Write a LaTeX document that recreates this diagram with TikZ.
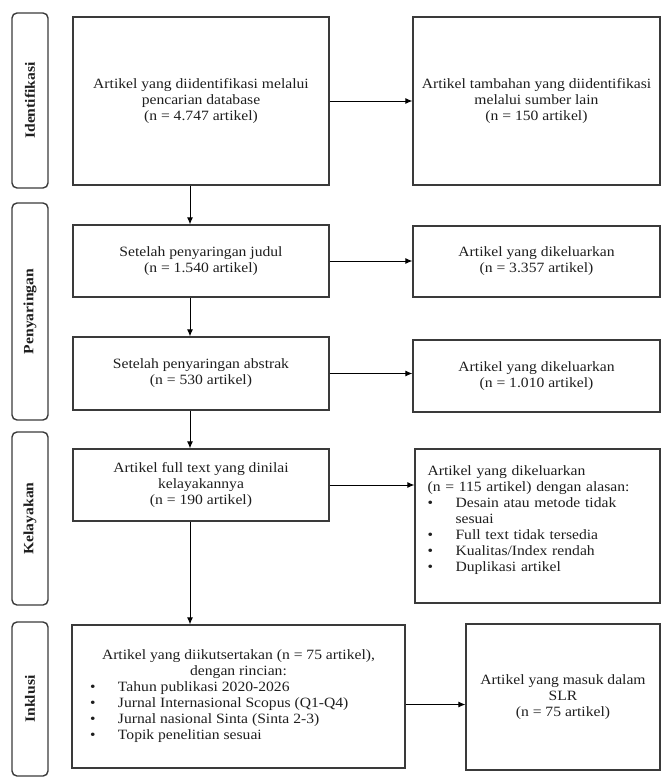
\documentclass[tikz,border=0pt]{standalone}
\usepackage{fontspec}
\setmainfont{Liberation Serif}[FakeStretch=1.1]
\usetikzlibrary{arrows.meta, positioning}
\definecolor{FrameGray}{HTML}{3A3A3A}
\definecolor{InkBlack}{HTML}{1E1E1E}
\newcommand{\flowfont}{\fontsize{14.2}{16}\selectfont}
\newcommand{\bul}[1]{\makebox[28pt][l]{\textbullet}#1}
\newcommand{\bulwide}[1]{\makebox[297pt][l]{\makebox[28pt][l]{\textbullet}#1}}
\tikzset{
    % Phase label boxes (rotated)
    phasebox/.style={
        rectangle,
        rounded corners=5pt,
        draw=FrameGray,
        line width=1.4pt,
        rotate=90,
        minimum height=36pt,
        text=InkBlack,
        font=\flowfont\bfseries
    },
    % Flow boxes
    flowbox/.style={
        rectangle,
        draw=FrameGray,
        line width=1.3pt,
        align=center,
        text=InkBlack,
        font=\flowfont
    },
    % Left aligned list text
    listtext/.style={
        inner sep=0pt,
        align=left,
        text width=219pt,
        text=InkBlack,
        font=\flowfont
    },
    % Arrow style
    myarrow/.style={
        -{Latex[length=7pt,width=6pt]},
        line width=0.9pt,
        black
    }
}
\begin{document}
\begin{tikzpicture}[x=1pt, y=-1pt]
    \useasboundingbox (0,0) rectangle (662,777);

    % Phase labels
    \node[phasebox, minimum width=175pt] (identifikasi) at (30,100.5) {Identifikasi};
    \node[phasebox, minimum width=217pt] (penyaringan) at (30,311.5) {Penyaringan};
    \node[phasebox, minimum width=173pt] (kelayakan) at (30,518.5) {Kelayakan};
    \node[phasebox, minimum width=154pt] (inklusi) at (30,699) {Inklusi};

    % Main column
    \node[flowbox, minimum width=256pt, minimum height=168pt] (found) at (201,101)
        {Artikel yang diidentifikasi melalui\\pencarian database\\(n = 4.747 artikel)};
    \node[flowbox, minimum width=256pt, minimum height=72pt] (judul) at (201,261)
        {Setelah penyaringan judul\\(n = 1.540 artikel)};
    \node[flowbox, minimum width=256pt, minimum height=73pt] (abstrak) at (201,373.5)
        {Setelah penyaringan abstrak\\(n = 530 artikel)};
    \node[flowbox, minimum width=256pt, minimum height=72pt] (fulltext) at (201,485)
        {Artikel full text yang dinilai\\kelayakannya\\(n = 190 artikel)};
    \node[flowbox, minimum width=333pt, minimum height=143pt] (included) at (238.5,696.5)
        {Artikel yang diikutsertakan (n = 75 artikel),\\dengan rincian:\\
         \bulwide{Tahun publikasi 2020-2026}\\
         \bulwide{Jurnal Internasional Scopus (Q1-Q4)}\\
         \bulwide{Jurnal nasional Sinta (Sinta 2-3)}\\
         \bulwide{Topik penelitian sesuai}};

    % Side column
    \node[flowbox, minimum width=247pt, minimum height=168pt] (extra) at (536.5,101)
        {Artikel tambahan yang diidentifikasi\\melalui sumber lain\\(n = 150 artikel)};
    \node[flowbox, minimum width=247pt, minimum height=71pt] (out1) at (536.5,261.5)
        {Artikel yang dikeluarkan\\(n = 3.357 artikel)};
    \node[flowbox, minimum width=247pt, minimum height=72pt] (out2) at (536.5,376)
        {Artikel yang dikeluarkan\\(n = 1.010 artikel)};
    \node[flowbox, minimum width=245pt, minimum height=154pt] (out3) at (537.5,526) {};
    \node[listtext, anchor=north west] (reasons) at ([xshift=13pt,yshift=-17pt]out3.north west)
        {Artikel yang dikeluarkan\\(n = 115 artikel) dengan alasan:\\
         \bul{Desain atau metode tidak}\\\hspace*{28pt}sesuai\\
         \bul{Full text tidak tersedia}\\
         \bul{Kualitas/Index rendah}\\
         \bul{Duplikasi artikel}};
    \node[flowbox, minimum width=194pt, minimum height=146pt] (slr) at (563,697)
        {Artikel yang masuk dalam\\SLR\\(n = 75 artikel)};

    % Arrows
    \coordinate (spine) at (190,0);
    \draw[myarrow] (found.south -| spine) -- (judul.north -| spine);
    \draw[myarrow] (judul.south -| spine) -- (abstrak.north -| spine);
    \draw[myarrow] (abstrak.south -| spine) -- (fulltext.north -| spine);
    \draw[myarrow] (fulltext.south -| spine) -- (included.north -| spine);
    \draw[myarrow] (found.east) -- (extra.west);
    \draw[myarrow] (judul.east) -- (judul.east -| out1.west);
    \draw[myarrow] (abstrak.east) -- (abstrak.east -| out2.west);
    \draw[myarrow] (fulltext.east) -- (fulltext.east -| out3.west);
    \draw[myarrow] ([yshift=-8pt]included.east) -- ([yshift=-8pt]included.east -| slr.west);
\end{tikzpicture}
\end{document}
